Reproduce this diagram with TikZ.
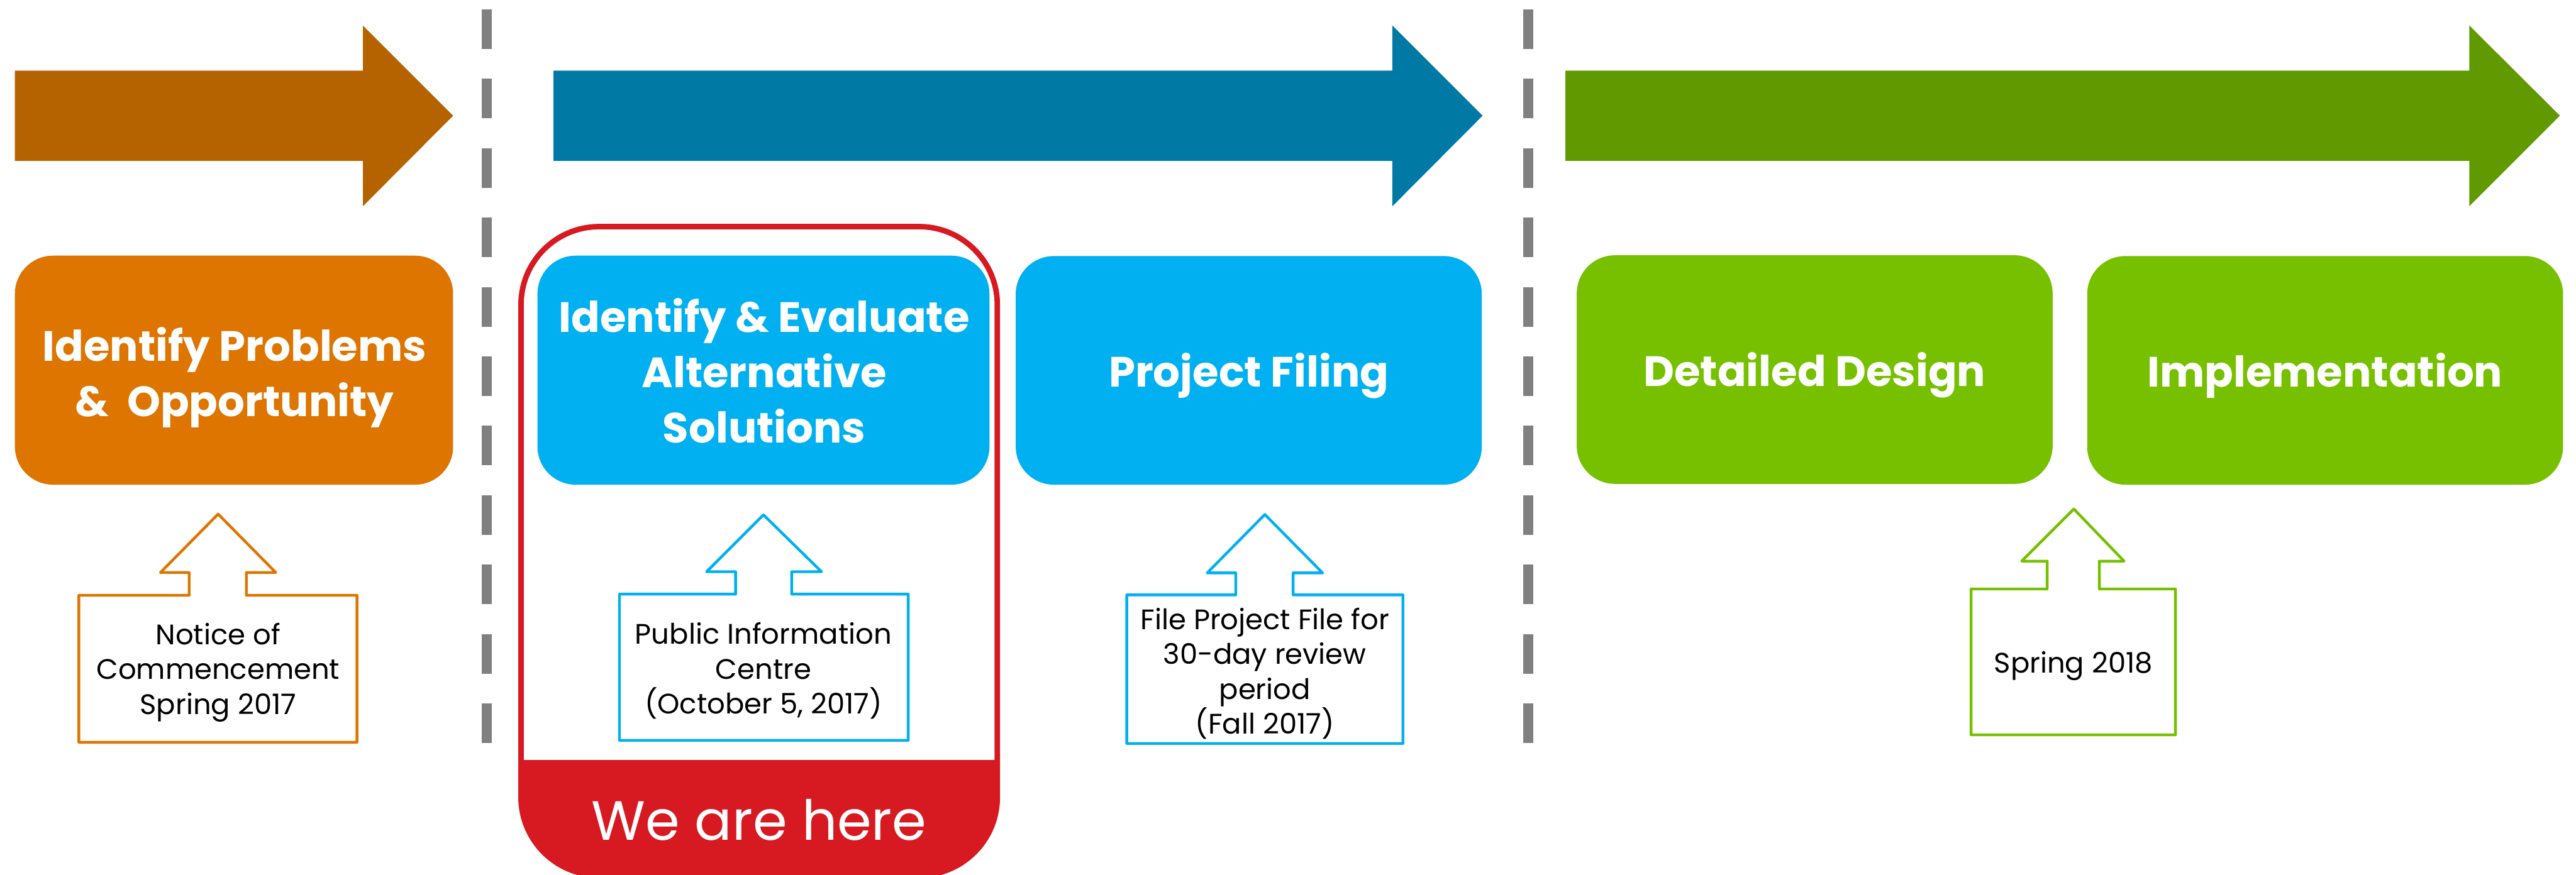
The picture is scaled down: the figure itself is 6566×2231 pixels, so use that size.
\documentclass[tikz,border=0pt]{standalone}
\usepackage{fontspec}
\setmainfont{Poppins}
\definecolor{orngarrow}{HTML}{B56300}
\definecolor{orngbox}{HTML}{DD7500}
\definecolor{bluearrow}{HTML}{0079A4}
\definecolor{bluebox}{HTML}{00B0F0}
\definecolor{grnarrow}{HTML}{609900}
\definecolor{grnbox}{HTML}{76C000}
\definecolor{herered}{HTML}{D71921}
\definecolor{divgray}{HTML}{808080}
\begin{document}
\begin{tikzpicture}[x=0.1pt,y=-0.1pt,line join=round]
\tikzset{
  stagebox/.style={rounded corners=9.7pt,draw=none,inner sep=0pt},
  titletext/.style={font=\bfseries\fontsize{10.8}{14.1}\selectfont,text=white,align=center,inner sep=0pt},
  notetext/.style={font=\fontsize{7.2}{8.9}\selectfont,align=center,inner sep=0pt,text=black},
  calloutline/.style={line width=0.7pt,fill=white},
  divider/.style={draw=divgray,line width=2.6pt,dash pattern=on 10.1pt off 7.6pt},
}
\useasboundingbox (0,0) rectangle (6566,2231);
\fill[white] (0,0) rectangle (6566,2231);

% big phase arrows
\fill[orngarrow] (38,180) -- (925,180) -- (925,65) -- (1155,295) -- (925,526) -- (925,410) -- (38,410) -- cycle;
\fill[bluearrow] (1411,180) -- (3549,180) -- (3549,65) -- (3779,295) -- (3549,526) -- (3549,410) -- (1411,410) -- cycle;
\fill[grnarrow] (3990,180) -- (6294,180) -- (6294,65) -- (6525,295) -- (6294,526) -- (6294,410) -- (3990,410) -- cycle;

% dividers
\coordinate (d1a) at (1241,24); \coordinate (d1b) at (1241,1900);
\coordinate (d2a) at (3895,24); \coordinate (d2b) at (3895,1900);
\draw[divider] (d1a) -- (d1b);
\draw[divider] (d2a) -- (d2b);

% "we are here" frame
\begin{scope}
  \clip[rounded corners=19.9pt] (1328,578) rectangle (2542,2232);
  \fill[herered] (1300,1938) rectangle (2600,2300);
\end{scope}
\draw[herered,line width=1.4pt,rounded corners=19.9pt] (1328,578) rectangle (2542,2232);
\node[font=\fontsize{14.1}{16}\selectfont,text=white,inner sep=0pt,anchor=base] (here) at (1935,2142) {We are here};

% stage boxes
\node[stagebox,fill=orngbox,minimum width=111.7pt,minimum height=58.4pt] (s1) at (596.5,944) {};
\node[stagebox,fill=bluebox,minimum width=115.2pt,minimum height=58.4pt] (s2) at (1946,944) {};
\node[stagebox,fill=bluebox,minimum width=118.8pt,minimum height=58.3pt] (s3) at (3183,944.5) {};
\node[stagebox,fill=grnbox,minimum width=121.3pt,minimum height=58.3pt] (s4) at (4625.5,942.5) {};
\node[stagebox,fill=grnbox,minimum width=121.3pt,minimum height=58.3pt] (s5) at (5926.5,944.5) {};

\node[titletext] (t1) at (598,962) {Identify Problems\\\&~~Opportunity};
\node[titletext] (t2) at (1948,946) {Identify \& Evaluate\\Alternative\\Solutions};
\node[titletext,anchor=base] (t3) at (3183,987) {Project Filing};
\node[titletext,anchor=base] (t4) at (4625,985) {Detailed Design};
\node[titletext,anchor=base] (t5) at (5926,987) {Implementation};

% callouts
\draw[calloutline,draw=orngbox] (201,1893) -- (201,1518) -- (482,1518) -- (482,1460) -- (409,1460) -- (556,1311) -- (703,1460) -- (628,1460) -- (628,1518) -- (910,1518) -- (910,1893) -- cycle;
\draw[calloutline,draw=bluebox] (1579,1888) -- (1579,1515) -- (1875,1515) -- (1875,1458) -- (1801,1458) -- (1946,1313) -- (2094,1458) -- (2018,1458) -- (2018,1515) -- (2315,1515) -- (2315,1888) -- cycle;
\draw[calloutline,draw=bluebox] (2872,1896) -- (2872,1517) -- (3150,1517) -- (3150,1461) -- (3077,1461) -- (3224,1312) -- (3371,1461) -- (3296,1461) -- (3296,1517) -- (3576,1517) -- (3576,1896) -- cycle;
\draw[calloutline,draw=grnbox] (5024,1874) -- (5024,1502) -- (5218,1502) -- (5218,1431) -- (5153,1431) -- (5286,1298) -- (5414,1431) -- (5351,1431) -- (5351,1502) -- (5545,1502) -- (5545,1874) -- cycle;

\node[notetext] (n1) at (556,1715) {Notice of\\Commencement\\Spring 2017};
\node[notetext] (n2) at (1946,1711) {Public Information\\Centre\\(October 5, 2017)};
\node[notetext] (n3) at (3224,1718) {File Project File for\\30-day review\\period\\(Fall 2017)};
\node[notetext] (n4) at (5285,1698) {Spring 2018};
\end{tikzpicture}
\end{document}
